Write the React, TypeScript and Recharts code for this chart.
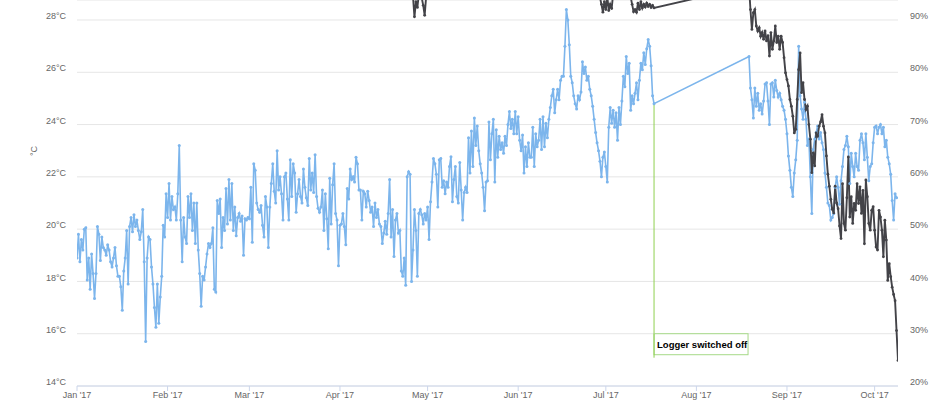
import React from 'react'
import { LineChart, Line, XAxis, YAxis, CartesianGrid, ReferenceLine } from 'recharts'

// readings are logged twice a day; x values are days since 1 Jan 2017
const readingsPerDay = 2

const monthTicks = [0, 31, 59, 90, 120, 151, 181, 212, 243, 273]
const monthLabels = ["Jan '17", "Feb '17", "Mar '17", "Apr '17", "May '17", "Jun '17", "Jul '17", "Aug '17", "Sep '17", "Oct '17"]
const tempTicks = [14, 16, 18, 20, 22, 24, 26, 28]
const humidityTicks = [20, 30, 40, 50, 60, 70, 80, 90]

// temperature (°C), 1 Jan -> 17 Jul
const tempFirstStart = 0
const tempFirst = [
  18.9, 19.8, 18.75, 19.6, 19.2, 20.0, 20.05, 18.05, 18.9, 17.7, 19.05, 18.3,
  17.35, 18.3, 20.1, 19.8, 18.8, 19.7, 19.3, 19.2, 19.0, 19.4, 19.2, 18.75,
  18.55, 18.9, 19.3, 18.6, 18.2, 18.2, 17.8, 16.9, 18.4, 18.9, 19.95, 17.9,
  20.1, 20.45, 19.9, 20.55, 20.1, 20.35, 19.95, 19.6, 19.9, 20.75, 18.75, 15.7,
  18.9, 19.7, 19.6, 18.55, 17.9, 17.0, 16.25, 17.9, 16.4, 17.4, 18.2, 20.15,
  19.7, 21.35, 20.45, 21.75, 20.35, 21.25, 20.75, 20.85, 20.35, 21.35, 23.2, 20.35,
  18.75, 20.45, 19.7, 19.45, 21.25, 20.45, 21.35, 19.95, 21.0, 19.45, 21.0, 19.2,
  18.3, 17.05, 18.2, 18.05, 18.55, 19.05, 19.45, 19.3, 19.45, 20.05, 17.7, 17.6,
  21.1, 20.6, 21.15, 19.3, 20.45, 19.95, 21.55, 20.2, 21.9, 20.35, 21.75, 19.95,
  20.85, 19.75, 20.45, 20.6, 20.3, 20.5, 19.0, 20.4, 20.35, 20.45,
  20.4, 21.6, 19.5, 22.5, 22.25, 21.0, 20.75, 20.65, 20.9, 20.15, 19.7, 21.25,
  20.85, 19.3, 20.85, 21.75, 22.5, 21.45, 21.0, 23.0, 21.5, 22.0, 21.35, 20.35,
  22.0, 22.15, 21.15, 20.35, 22.65, 21.25, 22.5, 22.15, 20.65, 21.35, 21.9, 21.25,
  21.0, 22.3, 21.6, 21.2, 20.9, 22.7, 21.5, 22.15, 21.4, 22.85, 21.25, 20.8,
  20.65, 20.85, 21.5, 19.95, 21.35, 20.4, 19.25, 21.95, 20.2, 21.7, 22.5, 20.6,
  20.35, 18.6, 20.15, 20.2, 20.6, 20.1, 19.4, 21.55, 21.15, 22.3, 21.9, 22.0,
  21.8, 22.75, 22.5, 21.5, 21.5, 20.35, 21.45, 21.35, 20.85, 21.45, 21.1, 20.65,
  20.85, 20.1, 21.0, 20.45, 20.75, 20.2, 20.1, 19.45, 19.85, 20.3, 19.8, 20.6,
  21.9, 19.7, 20.75, 18.95, 20.35, 20.6, 19.85, 19.95, 18.4, 18.2, 18.9, 17.85,
  22.0, 22.2, 22.1, 18.0, 19.2, 20.75, 19.95, 18.2, 20.6, 20.75, 20.55, 20.2,
  20.6, 20.35, 20.85, 19.6, 21.05, 21.8, 22.7,
  22.5, 22.1, 20.85, 22.65, 22.7, 21.6, 21.85, 21.35, 21.8, 21.6, 22.4, 22.77,
  21.05, 21.9, 22.4, 21.25, 21.0, 22.55, 21.5, 20.35, 21.4, 21.6, 21.4, 23.5,
  22.15, 23.75, 22.4, 24.25, 23.2, 23.95, 23.0, 22.5, 22.15, 21.6, 20.7, 21.8,
  21.85, 24.1, 22.65, 23.65, 24.2, 21.8, 23.8, 22.75, 23.55, 23.05, 23.3, 22.9,
  23.55, 23.2, 24.0, 24.5, 23.85, 24.2, 23.65, 24.5, 23.65, 24.3, 23.4, 23.0,
  23.6, 22.15, 23.15, 22.4, 23.3, 22.75, 22.75, 23.9, 22.4, 23.65, 23.15, 23.4,
  24.2, 23.05, 24.3, 23.15, 24.05, 23.5, 24.2, 24.65, 25.1, 25.35, 24.45, 24.95,
  25.35, 24.95, 25.7, 25.85, 25.85, 27.0, 28.4, 28.0, 27.05, 25.85, 25.6, 25.1,
  24.8, 24.6, 25.1, 24.95, 25.25, 26.4, 25.95, 26.2, 25.7, 25.85, 25.35, 25.1,
  24.7, 24.2, 23.7, 23.3, 23.0, 22.6, 22.0, 22.75, 22.95, 22.4, 21.8, 23.9,
  24.65, 24.05, 24.55, 23.9, 24.45, 23.4, 24.65, 24.0, 24.9, 25.85, 25.45, 26.6,
  25.95, 26.35, 24.55, 25.1, 24.8, 25.2, 25.6, 24.95, 25.7, 26.35, 26.1, 26.75,
  26.3, 26.9, 27.25, 27.0, 26.25, 25.1, 24.8,
]

// temperature (°C), 19 Aug -> 9 Oct
const tempSecondStart = 230
const tempSecond = [
  26.6, 25.4, 24.95, 24.25, 25.4, 24.7, 25.2, 24.55, 24.8, 24.4, 24.9, 25.55,
  25.6, 24.9, 24.0, 25.55, 25.6, 25.05, 25.7, 25.3, 25.05, 25.2, 24.95, 24.7,
  24.55, 24.2, 23.65, 22.8, 22.25, 21.6, 21.25, 22.15, 22.65, 23.4, 27.0, 25.1,
  24.6, 24.2, 24.85, 24.2, 23.2, 23.45, 22.0, 20.6, 23.05, 23.45, 23.7, 23.95,
  23.45, 23.7, 23.3, 23.05, 22.15, 21.6, 21.0, 20.9, 20.35, 20.45, 20.6, 21.6,
  22.0, 21.6, 20.95, 21.85, 22.4, 23.05, 23.2, 23.55, 23.15, 21.75, 22.9, 22.4,
  22.0, 22.9, 22.4, 22.25, 23.4, 23.65, 23.3, 22.65, 23.65, 22.75, 21.85, 22.4,
  22.5, 23.3, 23.9, 23.95, 23.65, 23.9, 24.0, 23.65, 23.9, 23.15, 23.4, 22.75,
  22.5, 22.1, 21.1, 20.35, 21.35, 21.2,
]

// relative humidity (%), 25 Apr -> 17 Jul
const humFirstStart = 114
const humFirst = [
  97, 95, 94.5, 90.6, 93.5, 92.4, 95, 96.5, 94.2, 92.8, 90.9, 94.5, 96,
  96.8, 97.5, 98.2, 97.1, 96.4, 97.9, 98.6, 98.0, 97.3, 96.9,
  97.8, 98.4, 99.0, 98.3, 97.6, 96.8, 96.2, 97.0, 97.7, 98.5,
  98.9, 98.1, 97.4, 96.6, 95.9, 96.7, 97.5, 98.2, 98.8, 99.1,
  98.4, 97.6, 96.9, 96.3, 97.2, 98.0, 98.7, 98.2, 97.3, 96.5,
  95.8, 96.4, 97.3, 98.1, 98.6, 97.9, 97.0, 96.2, 95.7, 96.5,
  97.4, 98.3, 98.9, 98.5, 97.7, 96.8, 96.0, 95.4, 96.1, 97.0,
  97.8, 98.4, 97.9, 97.1, 96.3, 95.6, 95.1, 95.9, 96.8, 97.6,
  98.2, 97.5, 96.7, 95.9, 95.2, 94.8, 95.6, 96.5, 97.3, 97.9,
  97.2, 96.4, 95.7, 95.0, 94.6, 95.3, 96.2, 97.0, 97.6, 97.0,
  96.1, 95.4, 94.9, 95.5, 96.3, 97.1, 96.6, 95.8, 95.1, 94.7,
  95.4, 96.2, 96.9, 96.3, 95.5, 94.9, 95.6, 96.4, 95.8, 95.0,
  94.6, 95.3, 96.0, 95.4, 94.8, 94.5, 95.1, 94.3,
  93.0, 91.5, 93.5, 92.0, 94.5, 91.8, 93.0, 92.2, 95.0,
  95.8, 96.4, 95.6, 96.9, 96.1, 95.3, 96.0, 95.2, 94.8, 95.5, 94.9, 94.4,
  93.0, 91.6, 92.0, 91.5, 93.2, 92.0, 93.5, 92.3, 93.0, 92.5, 93.2, 92.6,
  93.0, 92.4, 92.8, 92.3,
]

// relative humidity (%), 19 Aug -> 9 Oct
const humSecondStart = 230
const humSecond = [
  96.5, 92.0, 88.2, 91.4, 92.0, 88.85, 87.9, 88.5, 86.9, 87.6, 86.3, 87.9,
  86.0, 87.0, 83.1, 87.6, 84.4, 86.0, 88.85, 85.7, 86.9, 84.4, 86.9, 85.7,
  82.8, 79.9, 78.6, 77.4, 74.8, 73.5, 71.6, 68.4, 69.1, 74.8, 80.5, 83.7,
  76.1, 78.0, 74.8, 72.9, 73.5, 70.0, 67.2, 60.8, 64.6, 62.1, 68.4, 67.8,
  69.7, 70.5, 71.9, 69.7, 68.4, 64.0, 60.5, 58.2, 55.7, 53.8, 53.1, 58.2,
  55.0, 53.9, 50.6, 48.2, 58.7, 51.1, 49.8, 56.0, 63.8, 52.3, 56.2, 51.1,
  54.9, 53.6, 58.7, 54.9, 58.1, 53.0, 57.4, 47.2, 59.4, 56.2, 51.1, 49.8,
  53.6, 54.3, 49.8, 46.6, 46.0, 53.6, 52.3, 49.8, 44.7, 51.7, 47.9, 40.2,
  43.4, 40.9, 38.9, 37.5, 36.3, 30.6, 24.9,
]

const noteText = 'Logger switched off'
const noteBottom = 16

const toSeries = (start: number, values: number[]) =>
  values.map((value, i) => ({ day: start + i / readingsPerDay, value }))

const tempData = [...toSeries(tempFirstStart, tempFirst), ...toSeries(tempSecondStart, tempSecond)]
const humidityData = [...toSeries(humFirstStart, humFirst), ...toSeries(humSecondStart, humSecond)]

const noteDay = tempFirstStart + (tempFirst.length - 1) / readingsPerDay
const noteValue = tempFirst[tempFirst.length - 1]

const NoteLabel = (props: any) => {
  const { viewBox } = props
  if (!viewBox) return null
  const x = viewBox.x
  const y = viewBox.y + viewBox.height
  return (
    <g>
      <rect x={x} y={y} width={94} height={21} fill="rgba(255,255,255,0.9)" stroke="#a6d987" strokeWidth={1} />
      <line x1={x} y1={y} x2={x} y2={y + 24} stroke="#8fd14f" strokeWidth={1} />
      <text x={x + 3} y={y + 14} fontSize={9.5} fontWeight="bold" fill="#000">
        {noteText}
      </text>
    </g>
  )
}

const tickStyle = { fill: '#666', fontSize: 9 }

export default function App() {
  return (
    <div
      style={{
        position: 'absolute',
        left: 0,
        top: 0,
        width: 940,
        height: 400,
        overflow: 'hidden',
        background: '#fff',
        fontFamily: '"Liberation Sans", Arial, sans-serif',
      }}
    >
      <LineChart width={940} height={420} margin={{ top: 0, right: 0, bottom: 0, left: 7 }}>
        <CartesianGrid vertical={false} stroke="#e6e6e6" yAxisId="left" />
        <XAxis
          type="number"
          dataKey="day"
          domain={[0, 281]}
          allowDataOverflow
          ticks={monthTicks}
          interval={0}
          tickFormatter={(d: number) => monthLabels[monthTicks.indexOf(d)]}
          height={34}
          axisLine={{ stroke: '#ccd6eb' }}
          tickLine={{ stroke: '#ccd6eb' }}
          tickSize={5}
          tickMargin={1}
          tick={tickStyle}
        />
        <YAxis
          yAxisId="left"
          orientation="left"
          width={70}
          domain={[14, 28.765]}
          allowDataOverflow
          ticks={tempTicks}
          interval={0}
          tickFormatter={(v: number) => `${v}°C`}
          axisLine={false}
          tickLine={false}
          tickSize={0}
          tickMargin={11}
          tick={{ ...tickStyle, dy: -4 }}
        />
        <YAxis
          yAxisId="right"
          orientation="right"
          width={42}
          domain={[20, 93.825]}
          allowDataOverflow
          ticks={humidityTicks}
          interval={0}
          tickFormatter={(v: number) => `${v}%`}
          axisLine={false}
          tickLine={false}
          tickSize={0}
          tickMargin={12}
          tick={{ ...tickStyle, dy: -4 }}
        />
        <Line
          yAxisId="left"
          data={tempData}
          dataKey="value"
          stroke="#7cb5ec"
          strokeWidth={1.6}
          dot={{ r: 1.5, fill: '#7cb5ec', stroke: 'none' }}
          activeDot={false}
          isAnimationActive={false}
        />
        <Line
          yAxisId="right"
          data={humidityData}
          dataKey="value"
          stroke="#434348"
          strokeWidth={1.9}
          dot={{ r: 1.4, fill: '#434348', stroke: 'none' }}
          activeDot={false}
          isAnimationActive={false}
        />
        <ReferenceLine
          yAxisId="left"
          segment={[
            { x: noteDay, y: noteValue },
            { x: noteDay, y: noteBottom },
          ]}
          stroke="#8fd14f"
          strokeWidth={1}
          label={<NoteLabel />}
        />
      </LineChart>
      <div
        style={{
          position: 'absolute',
          left: 34,
          top: 151,
          transform: 'translate(-50%, -50%) rotate(-90deg)',
          fontSize: 9,
          color: '#666',
          lineHeight: 1,
        }}
      >
        °C
      </div>
    </div>
  )
}
